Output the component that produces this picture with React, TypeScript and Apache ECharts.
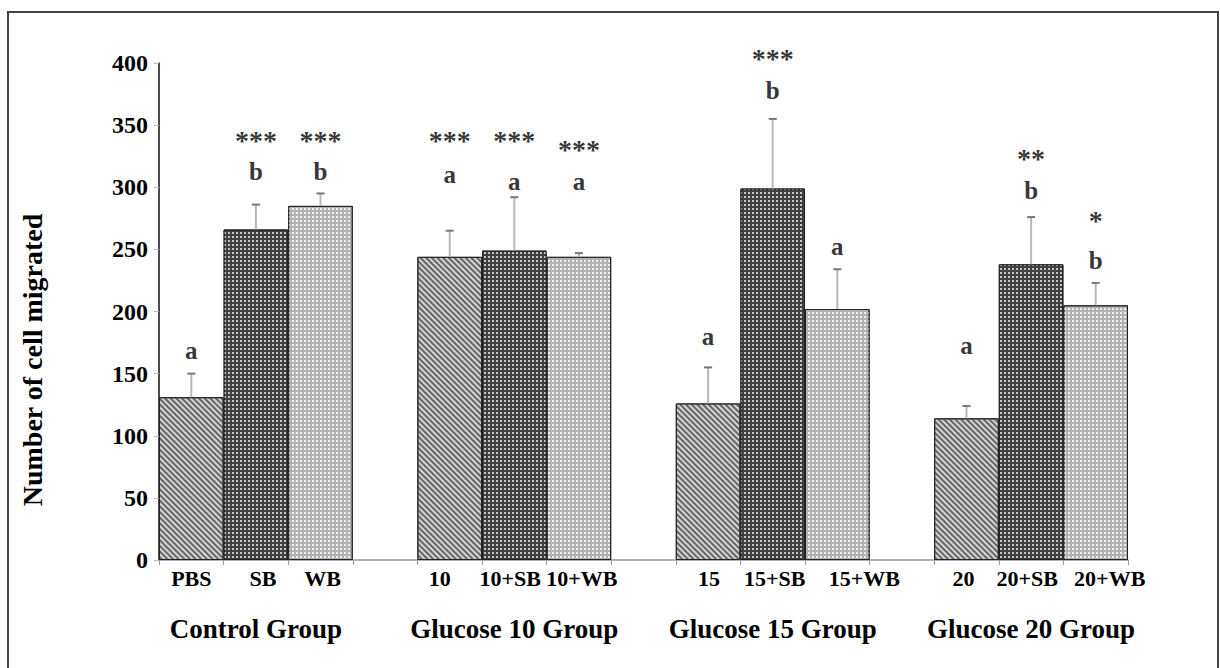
import React, { useEffect, useRef } from 'react';
import * as echarts from 'echarts';

// ---------- data ----------
const groups = ['Control Group', 'Glucose 10 Group', 'Glucose 15 Group', 'Glucose 20 Group'];
const barLabels = [
  ['PBS', 'SB', 'WB'],
  ['10', '10+SB', '10+WB'],
  ['15', '15+SB', '15+WB'],
  ['20', '20+SB', '20+WB'],
];
const means = [
  [131, 266, 285],
  [244, 249, 244],
  [126, 299, 202],
  [114, 238, 205],
];
const errors = [
  [19, 20, 10],
  [21, 43, 3],
  [29, 56, 32],
  [10, 38, 18],
];
const stars = [
  ['', '***', '***'],
  ['***', '***', '***'],
  ['', '***', ''],
  ['', '**', '*'],
];
const starY = [
  [0, 338, 338],
  [338, 338, 330],
  [0, 404, 0],
  [0, 323, 273],
];
const letters = [
  ['a', 'b', 'b'],
  ['a', 'a', 'a'],
  ['a', 'b', 'a'],
  ['a', 'b', 'b'],
];
const letterY = [
  [169, 313, 313],
  [310, 305, 305],
  [180, 378, 252],
  [173, 297, 241],
];
const yMin = 0;
const yMax = 400;
const yInterval = 50;
const yTitle = 'Number of cell migrated';

// horizontal nudges of the bar labels (px), as in the reference
const labelNudge = [
  [0, 7, 2],
  [-10, -4, 3],
  [1, 2, 27],
  [-3, -4, 14],
];

const FONT = '"Liberation Serif", "Times New Roman", serif';

const patterns = [
  {
    color: '#d4d4d4',
    decal: {
      symbol: 'rect',
      symbolSize: 1,
      color: '#666666',
      dashArrayX: [1, 0],
      dashArrayY: [2, 2],
      rotation: Math.PI / 4,
    },
  },
  {
    color: '#404040',
    decal: {
      symbol: 'rect',
      symbolSize: 1,
      color: '#c4c4c4',
      dashArrayX: [2, 2],
      dashArrayY: [2, 2],
      rotation: 0,
    },
  },
  {
    color: '#b2b2b2',
    decal: {
      symbol: 'rect',
      symbolSize: 1,
      color: '#eeeeee',
      dashArrayX: [2, 2],
      dashArrayY: [2, 2],
      rotation: 0,
    },
  },
];

export default function App() {
  const ref = useRef<HTMLDivElement>(null);

  useEffect(() => {
    if (!ref.current) return;
    const chart = echarts.init(ref.current, null, { renderer: 'svg' });

    const slotCount = groups.length * 4 - 1;
    const slotLabels: any[] = new Array(slotCount).fill('');
    const groupSlotLabels: string[] = new Array(slotCount).fill('');
    const barData: any[] = new Array(slotCount).fill('-');
    const errData: any[] = [];
    const starData: any[] = [];
    const letterData: any[] = [];

    groups.forEach((g, gi) => {
      groupSlotLabels[gi * 4 + 1] = g;
      for (let i = 0; i < 3; i++) {
        const s = gi * 4 + i;
        const dx = labelNudge[gi][i];
        slotLabels[s] = {
          value: barLabels[gi][i],
          textStyle: {
            padding: dx >= 0 ? [0, 0, 0, 2 * dx] : [0, -2 * dx, 0, 0],
          },
        };
        barData[s] = {
          value: means[gi][i],
          itemStyle: {
            color: patterns[i].color,
            decal: patterns[i].decal,
            borderColor: '#222',
            borderWidth: 1,
          },
        };
        errData.push([s, means[gi][i], errors[gi][i]]);
        if (stars[gi][i]) starData.push([s, starY[gi][i], stars[gi][i]]);
        if (letters[gi][i]) letterData.push([s, letterY[gi][i], letters[gi][i]]);
      }
    });

    const annSeries = (data: any[], fontSize: number, lineHeight: number) => ({
      type: 'scatter',
      xAxisIndex: 0,
      data,
      symbol: 'circle',
      symbolSize: 1,
      clip: false,
      itemStyle: { color: 'transparent' },
      z: 4,
      label: {
        show: true,
        position: 'inside',
        formatter: (p: any) => p.data[2],
        color: '#000',
        fontFamily: FONT,
        fontWeight: 'bold',
        fontSize,
        lineHeight,
      },
    });

    chart.setOption({
      animation: false,
      backgroundColor: '#fff',
      grid: { left: 159, right: 92, top: 63, bottom: 108, containLabel: false },
      xAxis: [
        {
          type: 'category',
          data: slotLabels,
          boundaryGap: true,
          axisLine: { show: true, lineStyle: { color: '#9a9a9a', width: 1.5 } },
          axisTick: { show: true, interval: 0, length: 5, lineStyle: { color: '#9a9a9a' } },
          axisLabel: {
            interval: 0,
            margin: 7,
            color: '#000',
            fontFamily: FONT,
            fontWeight: 'bold',
            fontSize: 22,
          },
          splitLine: { show: false },
        },
        {
          type: 'category',
          position: 'bottom',
          data: groupSlotLabels,
          boundaryGap: true,
          axisLine: { show: false },
          axisTick: { show: false },
          axisLabel: {
            interval: 0,
            margin: 55,
            color: '#000',
            fontFamily: FONT,
            fontWeight: 'bold',
            fontSize: 27,
          },
          splitLine: { show: false },
        },
      ],
      yAxis: {
        type: 'value',
        min: yMin,
        max: yMax,
        interval: yInterval,
        axisLine: { show: true, lineStyle: { color: '#111', width: 1.5 } },
        axisTick: { show: true, length: 5, lineStyle: { color: '#bbb' } },
        axisLabel: {
          margin: 11,
          color: '#000',
          fontFamily: FONT,
          fontWeight: 'bold',
          fontSize: 24,
        },
        splitLine: { show: false },
      },
      series: [
        {
          type: 'bar',
          xAxisIndex: 0,
          data: barData,
          barWidth: '100%',
          barCategoryGap: 0,
          z: 2,
        },
        {
          type: 'custom',
          xAxisIndex: 0,
          data: errData,
          z: 3,
          renderItem: (params: any, api: any) => {
            const x = api.value(0);
            const y = api.value(1);
            const e = api.value(2);
            const p0 = api.coord([x, y]);
            const p1 = api.coord([x, y + e]);
            return {
              type: 'group',
              children: [
                {
                  type: 'line',
                  shape: { x1: p0[0], y1: p0[1], x2: p1[0], y2: p1[1] },
                  style: { stroke: '#b8b8b8', lineWidth: 2 },
                },
                {
                  type: 'line',
                  shape: { x1: p1[0] - 4, y1: p1[1], x2: p1[0] + 4, y2: p1[1] },
                  style: { stroke: '#777', lineWidth: 2 },
                },
              ],
            };
          },
        },
        annSeries(starData, 28, 20),
        annSeries(letterData, 25, 22),
      ],
      graphic: [
        {
          type: 'rect',
          shape: { x: 8, y: 12, width: 1210, height: 720 },
          style: { fill: 'none', stroke: '#444', lineWidth: 2 },
          silent: true,
        },
        {
          type: 'text',
          x: 32,
          y: 360,
          rotation: Math.PI / 2,
          style: {
            text: yTitle,
            font: `bold 28px ${FONT}`,
            fill: '#000',
            textAlign: 'center',
            textVerticalAlign: 'middle',
          },
        },
      ],
    });

    return () => chart.dispose();
  }, []);

  return (
    <div
      ref={ref}
      style={{ position: 'absolute', left: 0, top: 0, width: 1220, height: 668, background: '#fff' }}
    />
  );
}
